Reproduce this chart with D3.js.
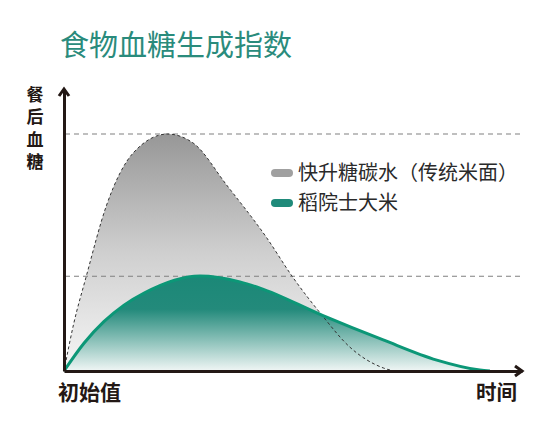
<!DOCTYPE html>
<html><head><meta charset="utf-8">
<script src="https://cdn.jsdelivr.net/npm/d3@7/dist/d3.min.js"></script>
<style>
html,body{margin:0;padding:0;background:#fff;}
svg{display:block;font-family:"Noto Sans CJK SC","Noto Sans",sans-serif;}
</style></head>
<body>
<svg id="chart" width="550" height="440"></svg>
<script>
// ---- data ----
const title = "食物血糖生成指数";
const yLabel = "餐后血糖";
const xStartLabel = "初始值";
const xEndLabel = "时间";
const seriesNames = ["快升糖碳水（传统米面）", "稻院士大米"];
// fast carb curve (time, glucose)
const grayTime  = [0, 2.1, 4.8, 9.3, 15.1, 22.6, 28.2, 35.5, 44.3, 49.8, 56.3, 62.4, 69.7, 72];
const grayValue = [0, 19.8, 39.5, 70, 92, 100, 96.2, 78.5, 56.1, 40, 23.6, 10.1, 1.3, 0];
// rice curve
const greenTime  = [0, 4.4, 8.7, 13.1, 17.5, 29.7, 38.4, 42.8, 56.3, 69.7, 81.4, 90.8, 93];
const greenValue = [0, 11.8, 20.8, 27.8, 32.9, 40.1, 37.6, 35, 23.6, 13.1, 4.6, 0.4, 0];
// reference levels (peaks)
const refLevels = [100, 40];

// ---- layout ----
const svg = d3.select("#chart");
const x = d3.scaleLinear().domain([0, 100]).range([64, 522]);
const y = d3.scaleLinear().domain([0, 119]).range([371, 89]);

const defs = svg.append("defs");
const gGray = defs.append("linearGradient").attr("id","gGray").attr("x1",0).attr("y1",0).attr("x2",0).attr("y2",1);
gGray.append("stop").attr("offset","0").attr("stop-color","#979797");
gGray.append("stop").attr("offset","0.5").attr("stop-color","#cfcfcf");
gGray.append("stop").attr("offset","1").attr("stop-color","#f6f6f6");
const gGreen = defs.append("linearGradient").attr("id","gGreen").attr("x1",0).attr("y1",0).attr("x2",0).attr("y2",1);
gGreen.append("stop").attr("offset","0").attr("stop-color","#1b8877");
gGreen.append("stop").attr("offset","0.35").attr("stop-color","#238a7b");
gGreen.append("stop").attr("offset","1").attr("stop-color","#f0f6f5");

const gray = grayTime.map((t,i)=>({t, v: grayValue[i]}));
const green = greenTime.map((t,i)=>({t, v: greenValue[i]}));

const curve = d3.curveMonotoneX;
const area = d3.area().x(d=>x(d.t)).y0(y(0)).y1(d=>y(d.v)).curve(curve);
const line = d3.line().x(d=>x(d.t)).y(d=>y(d.v)).curve(curve);

// title
svg.append("text").attr("x",60).attr("y",56).attr("font-size",29).attr("fill","#2a8b7c").text(title);

// fills
svg.append("path").datum(gray).attr("d",area).attr("fill","url(#gGray)");
svg.append("path").datum(green).attr("d",area).attr("fill","url(#gGreen)");

// reference dashed lines
svg.selectAll(".ref").data(refLevels).enter().append("line")
  .attr("x1", x(0)+1).attr("x2", x(100)).attr("y1", d=>y(d)).attr("y2", d=>y(d))
  .attr("stroke","#808080").attr("stroke-width",1.1).attr("stroke-dasharray","5,4");

// strokes
svg.append("path").datum(gray).attr("d",line).attr("fill","none")
  .attr("stroke","#333").attr("stroke-width",1).attr("stroke-dasharray","3,2.5");
svg.append("path").datum(green).attr("d",line).attr("fill","none")
  .attr("stroke","#0c9777").attr("stroke-width",3);

// axes
const axisColor = "#231815";
const yAxis = svg.append("g").attr("transform",`translate(${x(0)},0)`)
  .call(d3.axisLeft(y).tickValues([]).tickSizeOuter(0));
const xAxis = svg.append("g").attr("transform",`translate(0,${y(0)})`)
  .call(d3.axisBottom(x).tickValues([]).tickSizeOuter(0));
[yAxis, xAxis].forEach(g=>g.select(".domain").attr("stroke",axisColor).attr("stroke-width",3));

// arrowheads
const yTop = y.range()[1], xEnd = x.range()[1];
svg.append("path").attr("d",`M${x(0)-5},${yTop+7}L${x(0)},${yTop}L${x(0)+5},${yTop+7}`)
  .attr("fill","none").attr("stroke",axisColor).attr("stroke-width",3).attr("stroke-linejoin","miter");
svg.append("path").attr("d",`M${xEnd-7},${y(0)-5}L${xEnd},${y(0)}L${xEnd-7},${y(0)+5}`)
  .attr("fill","none").attr("stroke",axisColor).attr("stroke-width",3).attr("stroke-linejoin","miter");

// y label vertical
svg.append("text")
  .attr("x",35).attr("y",86)
  .attr("font-size",17).attr("font-weight","bold").attr("fill",axisColor)
  .style("writing-mode","vertical-rl").style("text-orientation","upright")
  .attr("letter-spacing",5.5)
  .text(yLabel);

// x labels
svg.append("text").attr("x",58).attr("y",400).attr("font-size",21).attr("font-weight","bold").attr("fill",axisColor).text(xStartLabel);
svg.append("text").attr("x",517).attr("y",400).attr("font-size",20.5).attr("font-weight","bold").attr("fill",axisColor).attr("text-anchor","end").text(xEndLabel);

// legend
const legColors = ["#a0a0a0", "#1f8a7a"];
const leg = svg.selectAll(".leg").data(seriesNames).enter().append("g")
  .attr("transform",(d,i)=>`translate(271,${173+i*30})`);
leg.append("rect").attr("x",0).attr("y",-4).attr("width",22).attr("height",8).attr("rx",4)
  .attr("fill",(d,i)=>legColors[i]);
leg.append("text").attr("x",27).attr("y",7).attr("font-size",20).attr("fill","#2a2a2a").text(d=>d);
</script>
</body></html>
